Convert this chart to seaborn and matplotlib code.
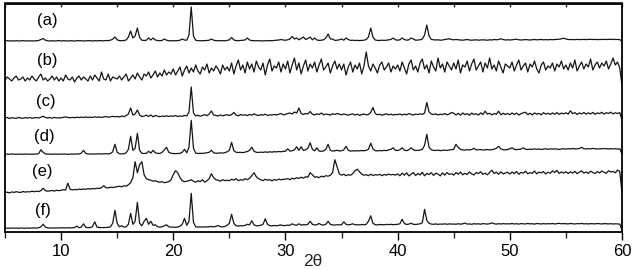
import numpy as np
import pandas as pd
import matplotlib
matplotlib.use("Agg")
import matplotlib.pyplot as plt
import seaborn as sns
from matplotlib.ticker import MultipleLocator

# ---------------- data (intensity, 0.2 deg steps; one row per 5 deg) ----
sample_labels = ["(a)", "(b)", "(c)", "(d)", "(e)", "(f)"]
x_ticks = [10, 20, 30, 40, 50, 60]

a_rows = [
    [0,0.3,0,0.2,0,0.3,0,0.2,0.4,0,0.3,0,0.2,0,0.3,0.5,1.5,2.5,0.8,0.2,0,0.3,0,0.2,0.4],
    [0,0.3,0.2,0,0.3,0.2,0,0.4,0.2,0.3,0,0.3,0.2,0.4,0,0.3,0.2,0.4,0.3,0.2,0.5,0.4,0.8,1.8,4],
    [1.2,0.4,0.3,0.5,1,4,10,3,5,13,3.5,0.8,0.5,0.8,3,1,3,1,0.5,0.3,0.6,2,0.8,0.3,0.2],
    [0.3,0.2,0.4,0.8,2,1,0.8,6,34,5,0.8,0.3,0.2,0.4,0.3,0.5,0.8,2,0.8,0.3,0.2,0.4,0.3,0.2,0.6],
    [1.2,3.5,1,0.4,0.3,0.5,0.6,1,3,1,0.4,0.3,0.2,0.3,0.2,0.1,0.3,0.2,0.4,0.3,0.6,0.8,1,1.5,1],
    [0.8,1.2,2,4.5,2,3,1.2,2.5,4,1.5,2.5,4,1.2,3,1,0.6,0.8,1.2,3,7,2,2,0.6,0.8,1.2],
    [2,0.8,3,1.5,0.6,0.8,0.5,0.6,0.4,0.6,0.8,1.5,4,13,4,1,0.6,0.5,0.8,0.6,0.8,1.2,1.5,3,1.2],
    [0.8,1.2,3,1.5,0.8,1.2,3,2,0.8,1,1.2,2,6,16,5,1.5,1.2,1,1.2,0.8,1,1.5,1.8,2.2,1.5],
    [1.2,1.5,1.2,1,0.8,1.2,1.5,1,0.8,1,1.2,0.8,1,1.2,1,0.8,1.2,1,1.5,1.2,1.5,2.2,1.5,1,1.2],
    [1,1.2,1.5,1.8,1.2,1,1.2,1.4,1.2,1,1.2,1.5,1.2,1.3,1.5,1.2,1.4,1.2,1.5,1.3,1.4,1.6,1.8,2.2,2.8],
    [2,1.5,1.4,1.5,1.3,1.6,1.4,1.5,1.6,1.4,1.5,1.7,1.5,1.6,1.4,1.5,1.7,1.6,1.5,1.6,1.7,1.5,1.6,1.5,1.4],
    [-0.5],
]
b_rows = [
    [-1,2,0,-2,1,3,-1,0,2,-2,1,-1,3,0,-2,2,5,-1,1,-2,0,3,-1,2,-2],
    [1,-2,4,0,-1,2,-3,1,3,-1,2,0,-2,3,-1,4,1,-2,7,0,-1,5,-2,2,1],
    [0,3,-1,2,5,-2,1,4,0,6,2,-1,5,3,7,1,4,8,2,6,3,9,4,7,5],
    [10,4,8,12,3,9,13,6,11,7,14,8,5,12,9,15,6,11,8,13,10,5,14,9,12],
    [8,16,5,13,19,9,14,6,17,10,15,7,18,12,9,16,4,14,20,8,13,11,17,7,15],
    [10,18,6,14,21,9,16,5,13,19,8,15,11,17,7,14,20,9,12,16,6,13,18,10,15],
    [9,15,4,12,17,7,14,10,16,5,13,27,13,8,15,11,6,14,17,9,12,16,7,13,10],
    [14,8,17,11,5,15,19,9,13,7,16,20,10,14,6,18,12,8,21,11,15,7,17,13,9],
    [16,10,19,6,14,12,18,8,15,20,9,13,17,7,16,11,21,10,14,8,18,12,6,15,13],
    [11,17,8,14,19,9,13,16,7,15,12,18,10,6,14,17,9,13,11,16,8,15,12,18,10],
    [14,9,16,11,19,8,13,17,10,15,12,20,9,14,17,11,16,13,18,10,15,21,14,17,11],
    [-6],
]
c_rows = [
    [0,0.5,-0.5,0.3,0,-0.4,0.6,0,-0.3,0.4,0,0.5,-0.3,0.2,0.5,0,0.8,1.8,0.6,0,0.4,-0.2,0.5,0.2,0],
    [0.3,0.6,1.2,0.5,0.2,0.6,0.3,0.8,0.4,0.9,0.5,1,0.6,0.9,0.5,1.2,0.7,1,0.6,1.1,1.5,0.8,1.2,1.6,1.3],
    [1.5,1,2,1.3,2.5,4,10,3,4,8,3,1.5,2,2.8,1.5,3,1.2,2.5,1.8,1.2,2,1.5,2.2,1.6,2],
    [1.8,2.4,1.5,2,1.7,2.6,2,6,31,5,2,2.8,1.8,2.5,3.5,2.2,4,7,3,2.5,2,3,2.2,2.8,3.2],
    [2.5,3.5,5.5,3,2.2,3.5,2.8,3.2,2.4,3.6,2.8,4.2,3,2.5,3.4,2.8,3.8,2.6,3.2,2.9,3.6,3,3.8,4.5,3.2],
    [3.5,4.5,5,4,6,5,10,4.5,3.5,4.5,4,6.5,3.8,3,4.2,3.5,5,3.2,4,3.5,3,4.2,3.6,4.5,3.8],
    [3.2,4,3.5,2.8,3.6,4.2,3,3.8,2.6,3.4,4,3.2,3.5,5.5,10.5,4.5,3.2,3.8,2.8,3.5,4.2,3.2,3.8,3,3.6],
    [3.4,4,3,3.8,3.2,4.4,3.6,3,3.9,3.4,4.2,3.6,5,15.5,6,4,3.5,4.2,3,3.8,3.4,4.5,3.2,4,5.5],
    [4.8,3,4.6,2.9,5,3.4,4.4,2.8,4.9,3.6,4.3,2.9,5.1,3.5,6.8,3.9,4.7,3.1,4.5,3.7,6.8,3.2,4.8,3.4,4.6],
    [3.3,5,3.6,4.9,3,4.4,5.2,5.8,3.4,4.7,3.1,5,3.8,4.6,3.2,5.3,3.9,4.8,3.5,5.1,3.7,5.4,3.6,4.9,4.2],
    [5.2,3.9,7.2,4.3,5.4,3.6,5,4.1,5.5,3.8,5.2,4,5.6,3.7,5.1,4.4,5.7,3.9,5.3,4.6,5.8,4.1,5.2,4.5,5.4],
    [-2],
]
d_rows = [
    [0,0.2,0,0.3,0.1,0,0.2,0.1,0,0.3,0.1,0.2,0,0.1,0.3,0.6,4.5,2,0.4,0.2,0.2,0,0.3,0.1,0.2],
    [0.1,0.3,0.2,0,0.2,0.3,0.1,0.4,0.2,1.2,4,1,0.3,0.2,0.4,0.2,0.3,0.5,0.3,0.4,0.6,0.4,0.8,2.5,10],
    [2,0.6,0.4,0.5,1.5,5,18,4,6,21,4,1,0.8,1,3,1.2,4,1.5,1,0.8,2,4.5,7,2,1],
    [0.8,0.6,0.8,1,2,5,1.5,7,34,6,1.2,0.8,1,0.9,1.2,1.5,2,4,1.5,1,1.2,1.4,1.2,1.6,2.5],
    [4,12,3.5,2,1.8,2,1.6,2.2,2.8,4,7,3,2,1.8,2.2,1.9,2.4,2,2.5,2.2,2.6,2.4,2.8,2.5,3],
    [3,5.5,3.2,3.5,4.5,7.5,4,7.5,3.8,4.5,6,11.5,5,3.5,6.5,3.2,3,3.4,5,10,4,3.2,3.5,4,3.4],
    [3.5,4.5,8,4,3.2,3.5,3.3,3.6,3.4,3.8,3.5,4,5,11,5.5,3.6,3.4,3.8,3.5,4,3.6,4.5,5,6.5,4],
    [3.8,4.5,6.5,4.2,3.6,4.5,6.5,4.5,3.8,4,4.2,5,9,20,7,4.5,4,3.8,4.2,3.6,4,4.2,3.8,4.4,4.6],
    [5,10,7,5,4.4,4.2,4.6,4.4,4.8,6,4.4,4.6,4.8,4.2,4.5,4.8,4.4,4.6,5.2,6,8,5.5,4.6,4.4,4.8],
    [5.5,6.5,5,4.6,5,5.2,6.5,5,4.8,5.2,4.9,5.4,5,5.3,4.8,5.2,5.6,5,5.4,5.1,5.5,5.2,4.9,5.3,5.6],
    [5.2,5.6,5.3,5.8,5.4,5.5,5.8,7,5.6,5.3,5.7,5.4,5.9,5.5,5.2,5.6,5.4,5.8,5.5,5.3,5.6,5.4,5.7,5.2,5.5],
    [0.5],
]
e_rows = [
    [0,0.5,-0.3,0.8,0.3,1,0.5,0.2,1.2,0.6,1,0.8,1.5,1,1.4,1.2,2,4.5,2,1.5,1.8,2.2,1.6,2.4,2],
    [2.5,3,2.6,9.5,3.5,2.8,3.2,3,3.6,3.2,3.8,3.4,4,3.6,4.2,3.8,4.5,4.2,5,7,5,4.8,5.5,5.2,5.6],
    [6,6.5,5.8,7,6.5,8,10,15,31,20,28,31,18,14,13,12.5,11.5,12,11,10.5,11,10,10.5,11,13],
    [18,22,20,15,12,11,11.5,12,13,11.5,10.5,12,11,13,10.5,12,14,19,15,13,12.5,11.5,13,12,12.5],
    [12,13.5,12.5,14,12,13,12.5,14,13,14.5,17,20,16,14,13,12,13.5,12.5,13,11.8,13.2,12.4,13.6,12.8,13.5],
    [13.5,14,13,14.5,13.8,15,14.2,15.5,14.5,16,15.5,20,18,15.5,16,15,16.5,15.8,17,16.5,17.5,20,33,26,19],
    [17.5,18.5,17,18,17.5,19,22,23.5,21,18.5,17.5,18,17,18.5,17.2,18,17.6,18.4,17,18.2,17.5,18.6,17.8,18.3,17.6],
    [18.8,16.9,19.6,17.5,19.9,16.8,18.4,20.2,17.2,19.1,17.8,20.4,16.9,19.3,18.1,20,17.3,19.5,18.6,16.8,19.8,17.6,20.1,18.3,19],
    [17.6,20.1,18.5,20.6,17.9,19.4,18.2,20.8,18.9,17.7,20.2,19.1,21,18.3,19.6,17.9,20.3,22.5,19.2,20.5,18.4,20.9,18.8,19.7,20.4],
    [18.6,20.7,19.1,21.2,18.4,20.3,19.6,21.5,18.9,20.1,19.3,21.7,18.8,20.6,19.9,21.1,18.7,20.5,19.4,21.8,20.2,22.3,19.2,20.8,19.6],
    [21,19.2,20.9,19.6,21.4,19,20.6,21.9,19.5,20.8,19.3,21.6,20.2,19.1,21.2,19.8,21.7,20.3,19.4,22,20.6,21.3,19.9,22.6,21.4],
    [0],
]
f_rows = [
    [0,0.2,0,0.3,0.1,0.2,0,0.3,0.2,0,0.3,0.1,0.2,0.4,0.2,0.5,1.5,4,1.2,0.4,0.3,0.2,0.4,0.3,0.5],
    [0.4,0.5,0.3,0.6,0.4,0.5,0.8,2.2,0.6,1.2,4.5,1,0.6,0.8,1.8,6.5,1.2,0.7,0.8,0.7,0.9,1,1.5,5,18],
    [5,1.5,2.5,1.2,1.5,4,15,4,7,26,5,2.5,7,10,4,7,3,3.5,1.5,1.2,1.5,2.5,3.5,1.5,1.2],
    [1.2,1,1.4,2,4,10,3,7,35,6,1.5,1.2,1.4,1.2,1.5,1.3,1.6,1.8,1.4,2,2.8,1.6,1.5,1.8,3],
    [5,14,5,2.5,2.2,2.6,2.4,3,4,3.5,7.5,3.5,2.5,2.6,3,4,9.5,4,2.6,2.4,2.8,2.5,3,3.4,2.6],
    [2.8,3.2,3,4.5,3.4,3,4.5,3.2,3.6,3.4,4,7,4,3.3,3.6,4.8,3.5,3.2,4,7,4,3.4,3.2,3.6,3.4],
    [3.6,6.5,4,3.4,3.8,4.5,3.5,3.6,3.4,3.8,3.5,4,7,12.5,5,3.6,3.4,3.8,3.6,3.5,3.9,3.7,4,3.6,3.8],
    [4,4.5,9,4.8,3.8,4.2,5,4,3.8,4.2,4.5,5.5,19,8,5,4.2,4,4.4,3.9,4.3,4.1,4.5,4,4.4,4.2],
    [4.3,4,4.6,4.1,4.5,5.2,4.2,4.4,4,4.6,4.3,4.5,4.1,4.7,4.4,4.2,4.6,5.5,4.5,4.2,4.6,4.3,4.7,4.4,4.5],
    [4.4,4.8,4.3,4.6,4.2,4.7,4.5,4.3,4.9,4.4,4.6,4.2,4.8,4.5,4.3,4.7,4.4,4.6,4.5,4.8,4.3,4.6,5,4.5,4.7],
    [4.6,4.4,4.8,4.5,4.3,4.7,4.5,4.9,4.4,4.6,4.3,4.7,4.5,4.4,4.8,4.6,4.3,4.7,4.5,4.4,4.6,4.3,4.5,4.4,4.2],
    [-1.5],
]

# vertical stacking offsets of the patterns (layout)
stack_offsets = [189.5, 151.5, 112.5, 76.2, 37.8, 2.2]
ROW_START, ROW_SPAN, STEP = 5.0, 5.0, 0.2

def expand(rows):
    xs, ys = [], []
    for r, row in enumerate(rows):
        for k, v in enumerate(row):
            xs.append(round(ROW_START + ROW_SPAN * r + STEP * k, 1))
            ys.append(v)
    return xs, ys

frames = []
for lab, rows, off in zip(sample_labels, [a_rows, b_rows, c_rows, d_rows, e_rows, f_rows], stack_offsets):
    xs, ys = expand(rows)
    frames.append(pd.DataFrame({"two_theta": xs, "intensity": np.array(ys) + off, "sample": lab}))
df = pd.concat(frames, ignore_index=True)

# ---------------- plot ----------------
sns.set_theme(style="ticks")
plt.rcParams["font.family"] = ["Liberation Sans", "DejaVu Sans"]

fig = plt.figure(figsize=(6.39, 2.70), dpi=100)
ax = fig.add_axes([5 / 639, 1 - 231.5 / 270, 617 / 639, 228 / 270])

sns.lineplot(data=df, x="two_theta", y="intensity", hue="sample",
             palette=["#151515"] * 6, estimator=None, legend=False,
             linewidth=0.9, ax=ax)

ax.set_xlim(5, 60)
ax.set_ylim(-1, 227)
ax.set_yticks([])
ax.set_ylabel("")
ax.xaxis.set_major_locator(MultipleLocator(10))
ax.xaxis.set_minor_locator(MultipleLocator(5))
ax.set_xticks(x_ticks)
ax.tick_params(axis="x", which="major", direction="out", length=6, width=1.0,
               labelsize=12, pad=3, colors="black")
ax.tick_params(axis="x", which="minor", direction="out", length=4, width=1.0)
for s in ax.spines.values():
    s.set_visible(True)
    s.set_linewidth(1.3)
    s.set_color("black")

top = ax.secondary_xaxis("top")
top.xaxis.set_major_locator(MultipleLocator(5))
top.tick_params(axis="x", direction="in", length=3, width=1.0, labeltop=False)
top.spines["top"].set_linewidth(1.3)

ax.set_xlabel("")
fig.text(313 / 639, 1 - 269 / 270, "2θ", ha="center", va="bottom", fontsize=12.5)

label_x = [8.8, 8.8, 8.6, 8.5, 8.3, 8.35]
label_y = [209.8, 170.5, 128.8, 93.8, 58.8, 20.5]
for lab, lx, ly in zip(sample_labels, label_x, label_y):
    ax.text(lx, ly, lab, ha="center", va="center", fontsize=12, color="black")

fig.savefig("out.png", dpi=100)
